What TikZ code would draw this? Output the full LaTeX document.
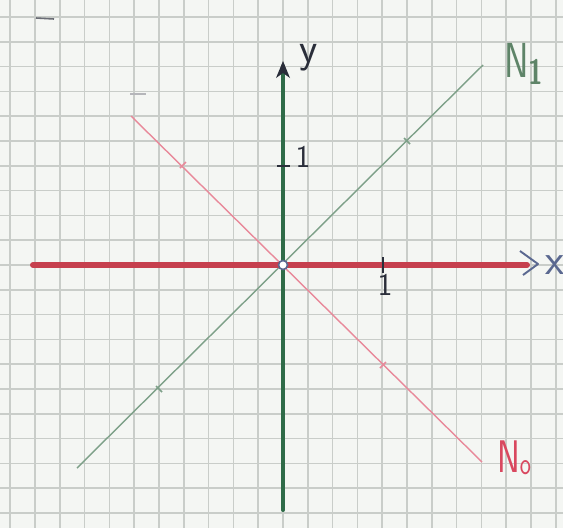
\documentclass[tikz,border=0pt]{standalone}
\usetikzlibrary{arrows.meta}
\definecolor{paper}{HTML}{F4F6F3}
\definecolor{gridc}{HTML}{C9CDC9}
\definecolor{axred}{HTML}{C6404E}
\definecolor{axgreen}{HTML}{2F6B48}
\definecolor{lgreen}{HTML}{7DA088}
\definecolor{lpink}{HTML}{E8899A}
\definecolor{inkblue}{HTML}{5A6890}
\definecolor{ink}{HTML}{2A2E3A}
\definecolor{lblred}{HTML}{D9485F}
\definecolor{lblgreen}{HTML}{5E8468}
\begin{document}
\begin{tikzpicture}[x=0.02cm,y=-0.02cm,
  gridline/.style={gridc,line width=0.85pt},
  redaxis/.style={axred,line width=3.4pt,line cap=round},
  greenaxis/.style={axgreen,line width=2.3pt,line cap=round},
  diag1/.style={lgreen,line width=0.8pt},
  diag0/.style={lpink,line width=0.8pt},
  tickmark/.style={ink,line width=1pt},
  hand/.style={inner sep=0pt,font=\sffamily},
]
\useasboundingbox (0,0) rectangle (563,528);
\fill[paper] (0,0) rectangle (563,528);
\foreach \k in {-11,...,11} {
  \draw[gridline] ({283+24.8*\k},0) -- ({283+24.8*\k},528);
  \draw[gridline] (0,{265+24.8*\k}) -- (563,{265+24.8*\k});
}
% faint remnants
\draw[ink!70,line width=0.9pt] (36,18) -- (54,19);
\draw[ink!35,line width=0.9pt] (130,94) -- (146,94);

% coordinates
\coordinate (O) at (283,265);
\coordinate (xl) at (33,265);
\coordinate (xr) at (527,265);
\coordinate (yb) at (283,510);
\coordinate (yt) at (283,66);
\coordinate (n1a) at (77,468);
\coordinate (n1b) at (483,65);
\coordinate (n0a) at (131,116);
\coordinate (n0b) at (482,462);

% diagonals
\draw[diag1] (n1a) -- (n1b);
\draw[diag0] (n0a) -- (n0b);
\draw[lgreen,line width=0.9pt] (156,386) -- (162,392);
\draw[lgreen,line width=0.9pt] (404,138) -- (410,144);
\draw[lpink,line width=0.9pt] (180,168) -- (186,162);
\draw[lpink,line width=0.9pt] (380,368) -- (386,362);

% axes
\draw[redaxis] (xl) -- (xr);
\draw[inkblue,line width=1.1pt,line join=round] (520,251) -- (538,264) -- (523,275);
\draw[greenaxis] (yb) -- (yt);
\fill[ink] (283,61) -- (276,78) -- (283,73) -- (290,78) -- cycle;

% ticks
\draw[tickmark] (277,166) -- (290,166);
\draw[tickmark] (383,257) -- (383,273);

% origin
\draw[inkblue,fill=white,line width=0.9pt] (O) circle (4.5);

% labels
\node[hand,ink,font=\sffamily\fontsize{24}{24}\selectfont] (ylab) at (309,58) {y};
\node[hand,inkblue,font=\sffamily\fontsize{25}{25}\selectfont] (xlab) at (555,265) {x};
\node[hand,ink,font=\sffamily\fontsize{18}{18}\selectfont] (y1) at (303,157) {1};
\node[hand,ink,font=\sffamily\fontsize{18}{18}\selectfont] (x1) at (385,285) {1};
\node[hand,lblgreen,font=\sffamily\fontsize{28}{28}\selectfont,xscale=0.75,transform shape] (N1) at (524,64) {N\raisebox{-4pt}{\fontsize{20}{20}\selectfont\bfseries 1}};
\node[hand,lblred,font=\sffamily\fontsize{26}{26}\selectfont,xscale=0.75,transform shape] (N0) at (514,458) {N\raisebox{-1pt}{\fontsize{18}{18}\selectfont o}};
\end{tikzpicture}
\end{document}
